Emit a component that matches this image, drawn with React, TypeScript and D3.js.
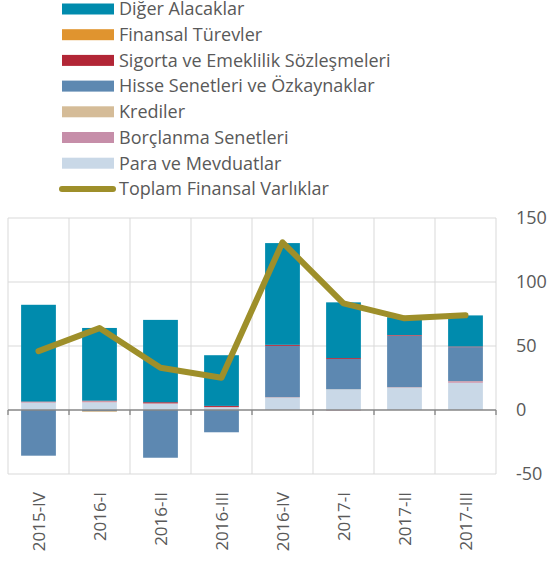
import React, { useEffect, useRef } from "react";
import * as d3 from "d3";

const categories = ["2015-IV", "2016-I", "2016-II", "2016-III", "2016-IV", "2017-I", "2017-II", "2017-III"];

const paraMevduat = [5.7, 6, 4.7, 2, 9.6, 16.1, 17.4, 21.3];
const borclanma = [0.5, 0.8, 0.5, 0.3, 0.3, -0.5, 0.3, 1.2];
const krediler = [0.1, 0.1, 0.1, 0.1, 0.1, 0.1, 0.1, 0.1];
const hisse = [-35.7, -1, -37.3, -17.4, 40.1, 23.7, 40.3, 26.5];
const sigorta = [0.3, 0.4, 0.8, 0.8, 0.8, 0.7, 0.5, 0.5];
const turevler = [0, -0.3, 0, 0, 0, 0, 0, 0];
const digerAlacak = [75.6, 56.8, 64.3, 39.6, 79.5, 43.5, 13.9, 24.3];
const toplam = [46, 64, 33, 25.2, 131, 83.3, 71.6, 74];

const yTicks = [-50, 0, 50, 100, 150];

const series = [
  { key: "para", label: "Para ve Mevduatlar", color: "#c9d8e7", values: paraMevduat },
  { key: "borc", label: "Borçlanma Senetleri", color: "#c68ea9", values: borclanma },
  { key: "kredi", label: "Krediler", color: "#d5bc98", values: krediler },
  { key: "hisse", label: "Hisse Senetleri ve Özkaynaklar", color: "#5d88b1", values: hisse },
  { key: "sigorta", label: "Sigorta ve Emeklilik Sözleşmeleri", color: "#b22636", values: sigorta },
  { key: "turev", label: "Finansal Türevler", color: "#e0942f", values: turevler },
  { key: "diger", label: "Diğer Alacaklar", color: "#008bad", values: digerAlacak },
];

const lineColor = "#9e8f2a";
const textColor = "#595959";
const font = "'Open Sans', sans-serif";

const App = () => {
  const ref = useRef<SVGSVGElement>(null);

  useEffect(() => {
    const svg = d3.select(ref.current);
    svg.selectAll("*").remove();

    const left = 8;
    const right = 496;
    const x = d3
      .scaleBand()
      .domain(categories)
      .range([left, right])
      .paddingInner(0.43)
      .paddingOuter(0.215);
    const step = x.step();
    const y = d3.scaleLinear().domain([-50, 150]).range([474, 218]);

    // grid
    const grid = svg.append("g");
    yTicks
      .filter((t) => t !== 0)
      .forEach((t) => {
        grid
          .append("line")
          .attr("x1", left)
          .attr("x2", right)
          .attr("y1", y(t))
          .attr("y2", y(t))
          .attr("stroke", "#d9d9d9")
          .attr("stroke-width", 1);
      });
    d3.range(categories.length + 1).forEach((i) => {
      grid
        .append("line")
        .attr("x1", left + i * step)
        .attr("x2", left + i * step)
        .attr("y1", y(150))
        .attr("y2", y(-50))
        .attr("stroke", "#d9d9d9")
        .attr("stroke-width", 1);
    });

    // stacked bars
    const table = categories.map((c, i) => {
      const row: any = { cat: c };
      series.forEach((s) => (row[s.key] = s.values[i]));
      return row;
    });
    const stacked = d3
      .stack()
      .keys(series.map((s) => s.key))
      .offset(d3.stackOffsetDiverging)(table);

    stacked.forEach((layer, li) => {
      svg
        .append("g")
        .selectAll("rect")
        .data(layer)
        .enter()
        .append("rect")
        .attr("x", (d: any) => x(d.data.cat)!)
        .attr("width", x.bandwidth())
        .attr("y", (d) => y(Math.max(d[0], d[1])))
        .attr("height", (d) => Math.abs(y(d[0]) - y(d[1])))
        .attr("fill", series[li].color);
    });

    // zero axis
    svg
      .append("line")
      .attr("x1", left)
      .attr("x2", right)
      .attr("y1", y(0))
      .attr("y2", y(0))
      .attr("stroke", "#868686")
      .attr("stroke-width", 1.3);
    d3.range(categories.length + 1).forEach((i) => {
      svg
        .append("line")
        .attr("x1", left + i * step)
        .attr("x2", left + i * step)
        .attr("y1", y(0))
        .attr("y2", y(0) + 5)
        .attr("stroke", "#868686")
        .attr("stroke-width", 1.3);
    });

    // total line
    const line = d3
      .line<number>()
      .x((d, i) => x(categories[i])! + x.bandwidth() / 2)
      .y((d) => y(d));
    svg
      .append("path")
      .datum(toplam)
      .attr("d", line)
      .attr("fill", "none")
      .attr("stroke", lineColor)
      .attr("stroke-width", 6)
      .attr("stroke-linecap", "round")
      .attr("stroke-linejoin", "round");

    // right axis labels
    yTicks.forEach((t) => {
      svg
        .append("text")
        .attr("x", 516)
        .attr("y", y(t))
        .attr("dy", "0.35em")
        .attr("fill", textColor)
        .style("font-family", font)
        .style("font-size", "18px")
        .text(t);
    });

    // x labels
    categories.forEach((c) => {
      const cx = x(c)! + x.bandwidth() / 2;
      svg
        .append("text")
        .attr("transform", `translate(${cx + 6},492) rotate(-90)`)
        .attr("text-anchor", "end")
        .attr("fill", textColor)
        .style("font-family", font)
        .style("font-size", "17px")
        .text(c);
    });

    // legend
    const legendItems = [
      ...series.slice().reverse().map((s) => ({ label: s.label, color: s.color, line: false })),
      { label: "Toplam Finansal Varlıklar", color: lineColor, line: true },
    ];
    legendItems.forEach((item, i) => {
      const cy = 9 + i * 25.7;
      const g = svg.append("g");
      if (item.line) {
        g.append("line")
          .attr("x1", 62)
          .attr("x2", 113)
          .attr("y1", cy)
          .attr("y2", cy)
          .attr("stroke", item.color)
          .attr("stroke-width", 6)
          .attr("stroke-linecap", "round");
      } else {
        g.append("rect")
          .attr("x", 62)
          .attr("y", cy - 5.5)
          .attr("width", 52)
          .attr("height", 11)
          .attr("fill", item.color);
      }
      g.append("text")
        .attr("x", 119)
        .attr("y", cy)
        .attr("dy", "0.35em")
        .attr("fill", textColor)
        .style("font-family", font)
        .style("font-size", "18px")
        .text(item.label);
    });
  }, []);

  return (
    <svg
      ref={ref}
      width={550}
      height={562}
      style={{ position: "absolute", left: 0, top: 0, background: "white" }}
    />
  );
};

export default App;
